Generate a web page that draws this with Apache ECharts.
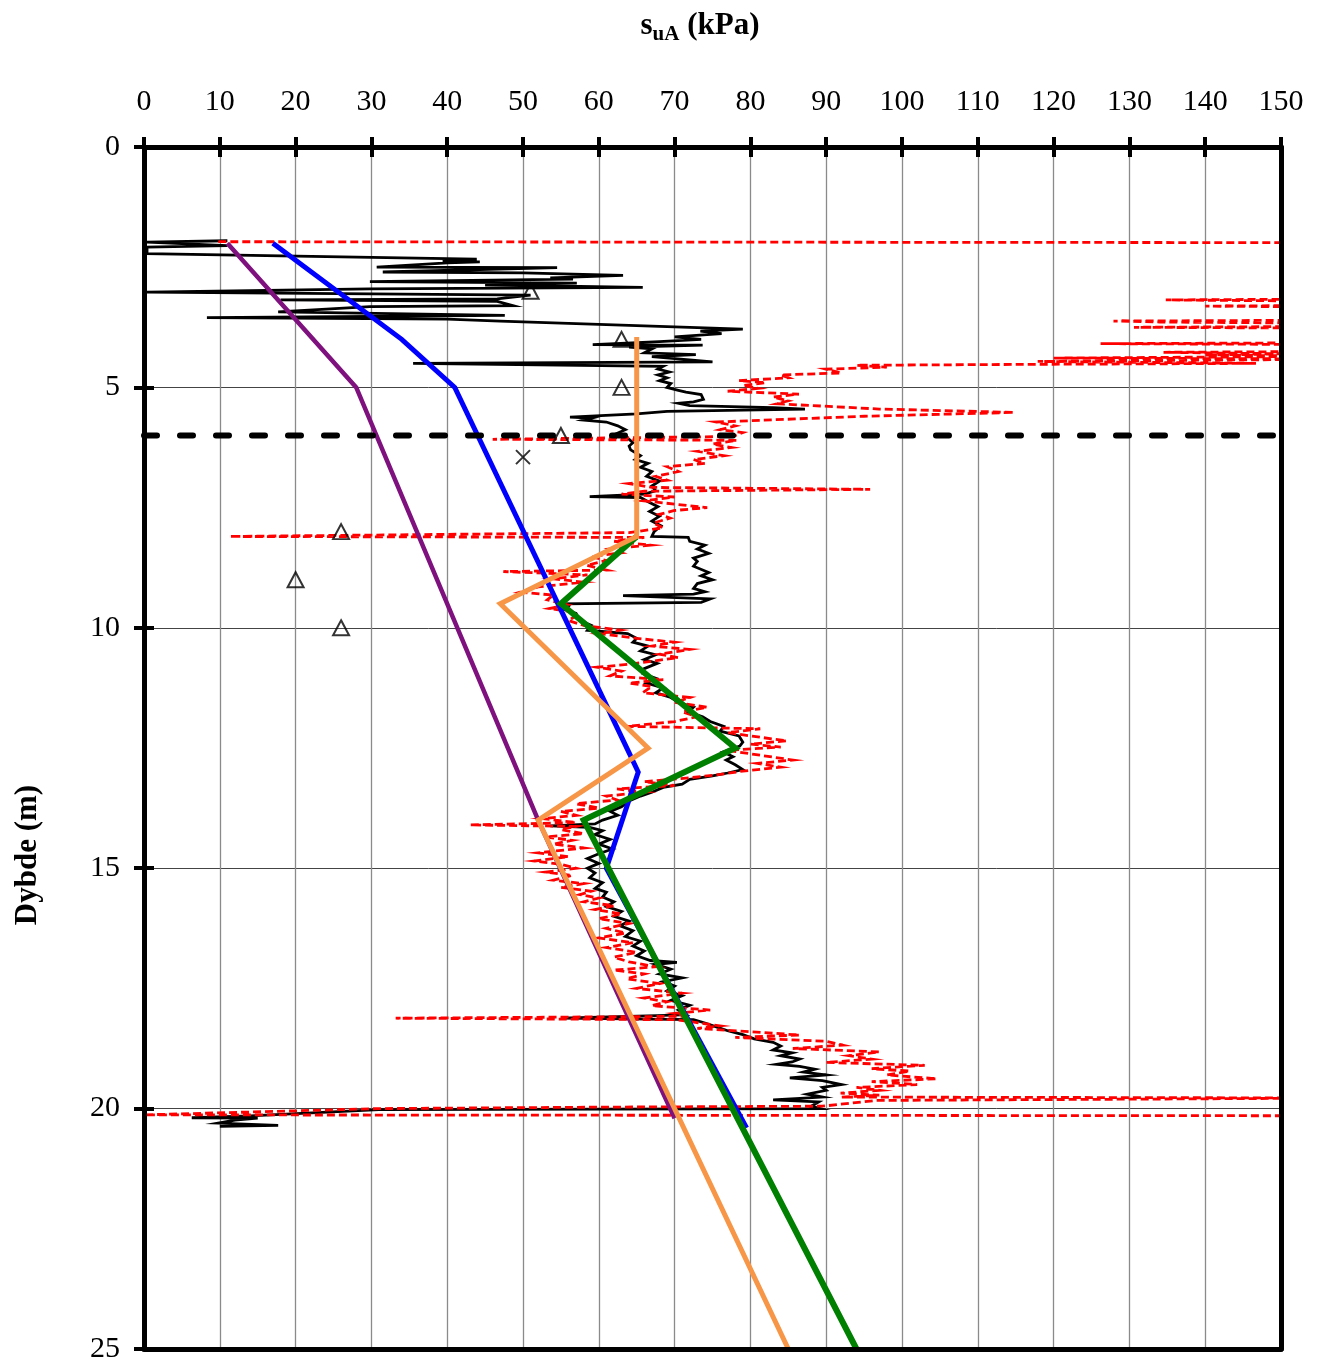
<!DOCTYPE html>
<html><head><meta charset="utf-8">
<script src="https://cdn.jsdelivr.net/npm/echarts@6/dist/echarts.min.js"></script>
<style>html,body{margin:0;padding:0;background:#fff}#chart{width:1323px;height:1364px}</style>
</head><body><div id="chart"></div>
<script>
// ---- axis settings ----
const suMin = 0, suMax = 150, suStep = 10;
const depthMin = 0, depthMax = 25, depthStep = 5;
const titleParts = ['s', 'uA', ' (kPa)'];
const depthName = 'Dybde (m)';

// ---- black CPTU-derived profile [su kPa, depth m] ----
const cptuBlack = [
[11,1.95],[0.4,1.98],[0.4,2.02],[11,2.05],[0.4,2.08],[0.4,2.22],[43.9,2.33],[39.4,2.37],[44.3,2.39],[40,2.41],
[30.7,2.5],[54.5,2.51],[31.5,2.6],[50,2.62],[63.2,2.67],[53.6,2.72],[56.6,2.75],[29.8,2.8],[57.1,2.83],[45,2.87],
[65.8,2.92],[29.8,2.95],[0.4,3.02],[51,3.08],[46.6,3.16],[18,3.18],[46.6,3.21],[48.7,3.3],[29.8,3.32],[17.7,3.43],
[47.6,3.5],[8.3,3.55],[40,3.58],[47,3.62],[79,3.79],[73.4,3.83],[76.2,3.88],[70,3.95],[73.5,4.0],[68,4.05],
[59.2,4.11],[73.7,4.12],[64,4.16],[67,4.2],[66,4.28],[72.8,4.32],[67,4.36],[75,4.47],[35.5,4.5],[68.5,4.56],
[67.8,4.62],[69.3,4.68],[67.8,4.74],[69,4.8],[68,4.86],[69.5,4.92],[69,5.0],[70.5,5.06],[71.5,5.1],[73.5,5.15],
[73.8,5.25],[72.5,5.3],[70.5,5.33],[72,5.38],[83,5.42],[87.2,5.45],[69,5.5],[65,5.55],[56.2,5.62],[59,5.64],
[58,5.68],[61,5.72],[62.5,5.8],[63.5,5.88],[62.5,5.95],[63.8,6.05],[64.5,6.15],[64,6.22],[64.2,6.3],[65.5,6.42],
[64.8,6.5],[66.5,6.58],[65.5,6.66],[67,6.75],[66.3,6.85],[68,6.95],[67,7.05],[67.5,7.15],[66,7.22],[58.8,7.27],
[65.5,7.29],[66.5,7.38],[67.8,7.48],[66.7,7.58],[68,7.68],[67,7.78],[68.2,7.88],[67.3,8.0],[67,8.1],[71.8,8.12],
[72,8.2],[74,8.28],[73,8.36],[74.5,8.45],[72.5,8.55],[73,8.62],[72.5,8.72],[74.5,8.85],[73.5,8.92],[75,9.0],
[73,9.08],[72.5,9.18],[74,9.25],[72.5,9.3],[63.2,9.33],[74.7,9.4],[73.5,9.47],[55.3,9.5],[56,9.55],[55.5,9.62],
[57,9.7],[57.5,9.85],[59,9.95],[58.5,10.05],[63.8,10.12],[65,10.22],[64.5,10.3],[66.5,10.38],[65.5,10.48],[67.5,10.56],
[66,10.66],[67.7,10.74],[66,10.85],[65.8,10.95],[67.5,11.05],[66.3,11.15],[68.5,11.25],[67.5,11.35],[69.5,11.45],[70.5,11.55],
[72.5,11.65],[71.8,11.75],[73.7,11.85],[74.7,11.95],[76.5,12.05],[76,12.15],[78.5,12.25],[79,12.38],[78.6,12.46],[76.4,12.58],
[77.7,12.68],[76.8,12.75],[78,12.85],[79,12.95],[77,13.02],[75,13.08],[72,13.15],[71,13.25],[68.5,13.32],[67,13.42],
[65.5,13.5],[64,13.6],[63,13.72],[61.5,13.82],[62.5,13.9],[60.5,14.0],[59.5,14.08],[53.6,14.12],[58.8,14.15],[60.5,14.22],
[59.5,14.3],[61.5,14.4],[60,14.5],[61.8,14.6],[60,14.7],[58.5,14.8],[60,14.9],[58.5,15.0],[59.5,15.1],[58.8,15.2],
[60.5,15.3],[59.5,15.42],[61,15.5],[60.5,15.6],[62,15.7],[61,15.8],[63,15.9],[62,16.0],[64,16.1],[62.8,16.2],
[64.5,16.3],[63.5,16.42],[65.5,16.52],[64.5,16.62],[66,16.72],[65,16.82],[66.8,16.92],[70.3,16.96],[67.5,17.0],[69.5,17.1],
[68,17.2],[71,17.28],[68.5,17.36],[70,17.45],[69,17.55],[71,17.65],[69.5,17.75],[72,17.85],[70.5,17.95],[71.5,18.05],
[55,18.12],[72.5,18.15],[74,18.22],[75.5,18.3],[77,18.38],[79,18.46],[80.5,18.55],[83,18.62],[84,18.7],[83,18.78],
[85.5,18.84],[84,18.9],[86.5,18.97],[85.5,19.03],[83.5,19.08],[86.5,19.12],[88.5,19.18],[87,19.24],[90,19.3],[85.2,19.36],
[89.5,19.42],[92,19.5],[89.5,19.56],[90,19.62],[87.5,19.7],[89.5,19.76],[83,19.82],[89,19.86],[88,19.95],[89.2,20.0],
[31,20.02],[14,20.15],[6.3,20.19],[15,20.2],[12,20.24],[9.8,20.3],[17.7,20.35],[10,20.37]
];

// ---- red dashed profile [su kPa, depth m] (values past 150 leave the plot) ----
const cptRed = [
[9.8,1.97],[160,1.99],[160,3.16],[134.8,3.18],[142,3.19],[160,3.21],[160,3.29],[140,3.31],[160,3.33],[160,3.6],
[127.9,3.62],[134,3.64],[160,3.67],[160,3.73],[130.6,3.75],[160,3.77],[160,4.07],[126.2,4.09],[160,4.11],[160,4.25],
[134.5,4.27],[150,4.3],[140,4.33],[160,4.35],[160,4.37],[120,4.39],[160,4.41],[160,4.44],[117.9,4.46],[146.7,4.5],
[117.9,4.52],[94,4.54],[98,4.58],[90,4.62],[92,4.7],[84,4.74],[85,4.8],[78.5,4.86],[82,4.9],[79,4.96],
[81,5.02],[77,5.08],[86.4,5.14],[83,5.2],[85,5.28],[83.5,5.34],[97,5.45],[114.8,5.52],[95,5.6],[75.5,5.72],
[78,5.8],[76,5.88],[79,5.94],[77.7,6.02],[46,6.08],[78.2,6.1],[75,6.18],[77.5,6.25],[73,6.33],[76.5,6.42],
[72.5,6.5],[74,6.58],[69,6.65],[70.5,6.75],[67.5,6.85],[69,6.93],[64,7.0],[67,7.08],[95.8,7.12],[66,7.16],
[63,7.22],[70,7.28],[66,7.36],[74.3,7.5],[70,7.56],[68,7.64],[69.4,7.72],[67.2,7.82],[68.5,7.92],[64,8.02],
[11.3,8.1],[66,8.12],[62,8.2],[66.8,8.28],[61.5,8.36],[63,8.44],[59,8.52],[61,8.6],[58.4,8.7],[61,8.8],
[47.4,8.83],[58.5,8.9],[54,8.98],[58,9.05],[52,9.15],[49.6,9.26],[54,9.32],[53.2,9.42],[55.8,9.52],[53.5,9.6],
[57,9.68],[57,9.75],[56,9.85],[58,9.95],[62.8,10.05],[60,10.12],[65,10.22],[70,10.3],[67,10.38],[72,10.45],
[68,10.55],[70.5,10.62],[64.5,10.75],[59.8,10.82],[63,10.9],[61.5,11.0],[68.5,11.08],[64,11.15],[67,11.22],[65.8,11.35],
[72,11.45],[70,11.55],[74.3,11.65],[71,11.75],[73,11.85],[70,11.95],[63.7,12.05],[81.3,12.1],[77,12.18],[80,12.25],
[84.8,12.35],[80,12.42],[84,12.48],[77,12.55],[80,12.62],[85.6,12.75],[81,12.82],[84,12.9],[79,12.98],[76,13.05],
[72,13.12],[66,13.2],[70,13.28],[62.4,13.35],[66,13.42],[61,13.5],[62.4,13.58],[57,13.66],[60,13.75],[55,13.82],
[57,13.9],[52.6,13.97],[57,14.05],[43,14.1],[57,14.13],[55,14.2],[58,14.28],[53,14.35],[56.5,14.42],[54,14.5],
[58,14.58],[52,14.68],[56,14.76],[51.5,14.85],[55,14.92],[57,15.0],[53,15.08],[56.5,15.15],[54,15.25],[58,15.32],
[55,15.4],[59,15.48],[57.5,15.55],[60,15.62],[58,15.7],[62,15.78],[59.5,15.86],[63,15.95],[60,16.05],[64,16.15],
[61,16.25],[63.5,16.35],[60,16.45],[64.5,16.55],[61,16.65],[65,16.75],[62,16.85],[64,16.95],[67.5,17.05],[62,17.12],
[66,17.2],[63.7,17.3],[68,17.4],[65,17.5],[71,17.6],[66,17.7],[69,17.78],[67,17.86],[74.7,17.95],[70,18.02],
[72,18.08],[33.2,18.12],[70,18.15],[72.5,18.2],[76,18.28],[73,18.33],[80,18.4],[86.5,18.47],[78,18.52],[90,18.6],
[92.2,18.68],[85.6,18.75],[97,18.82],[93,18.9],[96,18.97],[90,19.04],[103,19.1],[96,19.17],[101,19.22],[98,19.3],
[104.6,19.38],[96,19.44],[102,19.5],[94,19.56],[97,19.62],[91.9,19.68],[97,19.72],[92,19.76],[160,19.78],[160,19.82],
[96.6,19.83],[89.5,19.95],[60,19.97],[31,20.0],[0,20.13],[160,20.15]
];

// ---- design lines [su kPa, depth m] ----
const purpleLine = [[11,2],[28,5],[52,14],[70,20.2]];
const blueLine = [[17,2],[34,4],[41,5],[64,12.6],[65.2,13],[61,15],[79.5,20.4]];
const greenLine = [[65,8.1],[55,9.5],[78,12.5],[58,14],[94,25]];
const orangeLine = [[65,3.95],[65,8.1],[47,9.5],[66.5,12.5],[52,14],[85,25]];
const levelLine = [[0,6],[150,6]];

// ---- lab points ----
const trianglePts = [[51,3],[63,4],[63,5],[55,6],[26,8],[20,9],[26,10]];
const crossPts = [[50,6.45]];

const FONT = '"Liberation Serif","Times New Roman",serif';
const chart = echarts.init(document.getElementById('chart'), null, {renderer:'canvas'});

const baseX = {type:'value', min:suMin, max:suMax, interval:suStep, position:'top'};
const baseY = {type:'value', min:depthMin, max:depthMax, interval:depthStep, inverse:true, position:'left'};

function lineSeries(name, data, color, width, z, type, cap){
  return {name, type:'line', data, showSymbol:false, symbol:'none', smooth:false, clip:true, z,
    lineStyle:{color, width, type:type||'solid', cap:cap||'butt', join:'miter'}, emphasis:{disabled:true}, animation:false};
}

chart.setOption({
  animation:false,
  backgroundColor:'#fff',
  grid:{left:144, right:42, top:147, bottom:13, containLabel:false},
  xAxis:[
    Object.assign({}, baseX, {
      axisLine:{show:false, onZero:false},
      axisTick:{show:true, inside:false, length:10, lineStyle:{color:'#000', width:4}},
      axisLabel:{show:true, margin:30, fontFamily:FONT, fontSize:30, color:'#000', showMinLabel:true, showMaxLabel:true},
      splitLine:{show:true, lineStyle:{color:'#8a8a8a', width:1.3}}
    }),
    Object.assign({}, baseX, {
      z:10,
      axisLine:{show:true, onZero:false, lineStyle:{color:'#000', width:5}},
      axisTick:{show:true, inside:true, length:10, lineStyle:{color:'#000', width:4}},
      axisLabel:{show:false}, splitLine:{show:false}
    }),
    Object.assign({}, baseX, {
      position:'bottom', z:10,
      axisLine:{show:true, onZero:false, lineStyle:{color:'#000', width:5}},
      axisTick:{show:false}, axisLabel:{show:false}, splitLine:{show:false}
    })
  ],
  yAxis:[
    Object.assign({}, baseY, {
      axisLine:{show:false, onZero:false},
      axisTick:{show:true, inside:false, length:10, lineStyle:{color:'#000', width:4}},
      axisLabel:{show:true, margin:24, fontFamily:FONT, fontSize:30, color:'#000', showMinLabel:true, showMaxLabel:true},
      splitLine:{show:true, lineStyle:{color:'#444', width:1}}
    }),
    Object.assign({}, baseY, {
      z:10,
      axisLine:{show:true, onZero:false, lineStyle:{color:'#000', width:5}},
      axisTick:{show:true, inside:true, length:10, lineStyle:{color:'#000', width:4}},
      axisLabel:{show:false}, splitLine:{show:false}
    }),
    Object.assign({}, baseY, {
      position:'right', z:10,
      axisLine:{show:true, onZero:false, lineStyle:{color:'#000', width:5}},
      axisTick:{show:false}, axisLabel:{show:false}, splitLine:{show:false}
    })
  ],
  graphic:[
    {type:'text', x:700, y:26, z:20, style:{
      text:'{a|'+titleParts[0]+'}{b|'+titleParts[1]+'}{a|'+titleParts[2]+'}',
      align:'center', verticalAlign:'middle',
      rich:{
        a:{fontFamily:FONT, fontSize:31, fontWeight:'bold', fill:'#000', lineHeight:38, verticalAlign:'middle'},
        b:{fontFamily:FONT, fontSize:21, fontWeight:'bold', fill:'#000', lineHeight:38, verticalAlign:'bottom'}
      }
    }},
    {type:'text', x:28, y:855, rotation:Math.PI/2, z:20, style:{
      text:depthName, align:'center', verticalAlign:'middle',
      font:'bold 31px "Liberation Serif"', fill:'#000'
    }}
  ],
  series:[
    lineSeries('CPTU', cptuBlack, '#000', 2.8, 2),
    lineSeries('CPT', cptRed, '#ff0000', 2.8, 3, [8,4]),
    lineSeries('Purple', purpleLine, '#7f117f', 4.5, 4),
    lineSeries('Blue', blueLine, '#0000ff', 5, 5),
    lineSeries('Green', greenLine, '#008000', 6, 6),
    lineSeries('Orange', orangeLine, '#f79646', 5, 7),
    lineSeries('Level', levelLine, '#000', 6, 8, [13,23], 'round'),
    {name:'Tri', type:'scatter', data:trianglePts, symbol:'triangle', symbolSize:[16,15], z:10,
      itemStyle:{color:'rgba(0,0,0,0)', borderColor:'#000', borderWidth:2}, animation:false},
    {name:'Cross', type:'scatter', data:crossPts, symbol:'path://M0,0L10,10M0,10L10,0', symbolSize:14, z:10,
      itemStyle:{color:'rgba(0,0,0,0)', borderColor:'#000', borderWidth:2}, animation:false}
  ]
});
</script></body></html>
